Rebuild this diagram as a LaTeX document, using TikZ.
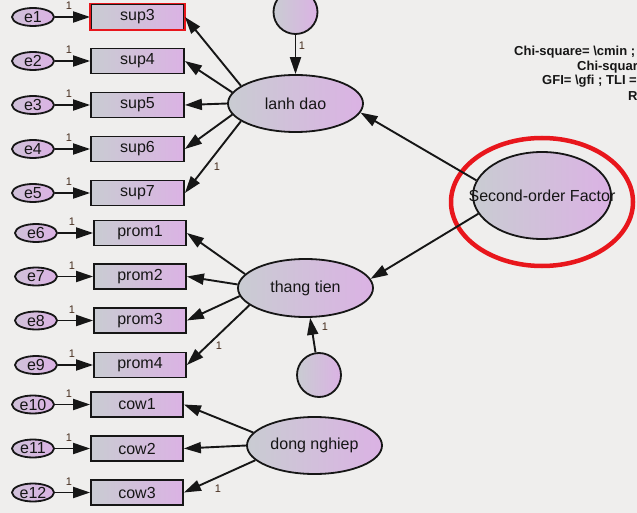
\documentclass[tikz,border=0pt]{standalone}
\usepackage{fontspec}
\setmainfont{Liberation Sans}
\usetikzlibrary{arrows.meta,shapes.geometric}
\definecolor{bg}{RGB}{239,238,237}
\definecolor{gl}{RGB}{201,204,210}
\definecolor{gr}{RGB}{219,178,228}
\definecolor{ink}{RGB}{22,22,22}
\definecolor{redc}{RGB}{232,22,28}
\definecolor{lab}{RGB}{70,45,30}
\begin{document}
\begin{tikzpicture}[x=1pt,y=-1pt,
  every node/.style={text=ink},
  big/.style={font=\fontsize{16}{18}\selectfont},
  obsbox/.style={big, draw=ink, line width=1.8pt, rectangle, minimum width=93pt, minimum height=25pt, inner sep=0pt, left color=gl, right color=gr},
  errell/.style={big, draw=ink, line width=1.8pt, ellipse, minimum width=42pt, minimum height=18pt, inner sep=0pt, left color=gl!60!gr, right color=gr},
  latent/.style={big, draw=ink, line width=1.8pt, ellipse, minimum width=135pt, minimum height=57pt, inner sep=0pt, left color=gl, right color=gr},
  resid/.style={draw=ink, line width=1.8pt, circle, minimum size=44pt, inner sep=0pt, left color=gl, right color=gr},
  one/.style={font=\fontsize{11}{12}\selectfont, text=lab, inner sep=0pt},
  conn/.style={draw=ink, line width=1.9pt, -{Triangle[length=17pt,width=11pt]}},
  stat/.style={font=\fontsize{13}{14}\bfseries\selectfont, anchor=west, inner sep=0pt}
]
\useasboundingbox (0,0) rectangle (637,513);
\clip (0,0) rectangle (637,513);
\fill[bg] (0,0) rectangle (637,513);

% observed and error terms
\foreach \i/\y/\n in {1/17/sup3,2/61/sup4,3/105/sup5,4/149/sup6,5/193/sup7}{
  \node[errell] (e\i) at (33,\y) {e\i};
  \node[obsbox] (\n) at (137.5,\y) {\n};
  \draw[conn] (e\i) -- (\n);
  \node[one] (l\i) at (69,\y-11) {1};
}
\draw[draw=redc, line width=1.8pt] (sup3.south west) rectangle (sup3.north east);
\foreach \i/\y/\n in {6/233/prom1,7/276.5/prom2,8/320.5/prom3,9/365/prom4}{
  \node[errell] (e\i) at (36,\y) {e\i};
  \node[obsbox, minimum width=92pt] (\n) at (140,\y) {\n};
  \draw[conn] (e\i) -- (\n);
  \node[one] (l\i) at (72,\y-11) {1};
}
\foreach \i/\y/\n in {10/404.5/cow1,11/448.5/cow2,12/492.5/cow3}{
  \node[errell] (e\i) at (33,\y) {e\i};
  \node[obsbox, minimum width=92pt] (\n) at (137,\y) {\n};
  \draw[conn] (e\i) -- (\n);
  \node[one] (l\i) at (69,\y-11) {1};
}

% latent factors
\node[latent] (ld) at (295.5,103.5) {lanh dao};
\node[latent, minimum height=58pt] (tt) at (305.5,288) {thang tien};
\node[latent] (dn) at (314.5,445.5) {dong nghiep};
\node[latent, minimum width=138pt, minimum height=87pt] (sof) at (542,195.5) {};
\node[big, inner sep=0pt] (sofT) at (542,196) {Second-order Factor};
\node[ellipse, draw=redc, line width=4.5pt, minimum width=182pt, minimum height=128pt] (ring) at (542,202) {};

\node[resid] (c1) at (295.5,12) {};
\node[resid] (c2) at (319,375) {};

% loadings
\draw[conn] (ld.162) -- (sup3.east);
\draw[conn] (ld.170) -- (sup4.east);
\draw[conn] (ld.180) -- (sup5.east);
\draw[conn] (ld.190) -- (sup6.east);
\draw[conn] (ld.198) -- (sup7.east);
\draw[conn] (tt.167) -- (prom1.east);
\draw[conn] (tt.177) -- (prom2.east);
\draw[conn] (tt.187) -- (prom3.east);
\draw[conn] (tt.197) -- (prom4.east);
\draw[conn] (dn.168) -- (cow1.east);
\draw[conn] (dn.180) -- (cow2.east);
\draw[conn] (dn.194) -- (cow3.east);
\draw[conn] (sof.167) -- (ld.352);
\draw[conn] (sof.196) -- (tt.8);
\draw[conn] (c1) -- (ld);
\draw[conn] (c2) -- (tt);

\node[one] (lsup7) at (217,167) {1};
\node[one] (lprom4) at (219,346) {1};
\node[one] (lcow3) at (218,489) {1};
\node[one] (lc1) at (302,46) {1};
\node[one] (lc2) at (325,327) {1};

% fit statistics (cut off at the right edge, as in the reference)
\node[stat] (s1) at (514,52) {Chi-square= \textbackslash cmin ;};
\node[stat] (s2) at (577,67) {Chi-square};
\node[stat] (s3) at (542,81) {GFI= \textbackslash gfi ; TLI =};
\node[stat] (s4) at (628,96) {R};
\end{tikzpicture}
\end{document}
